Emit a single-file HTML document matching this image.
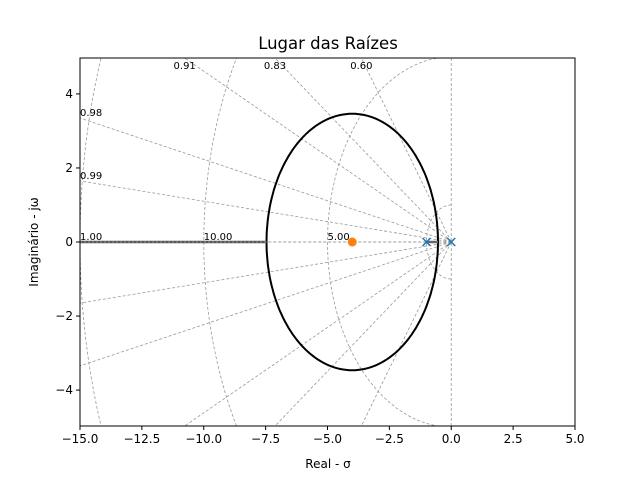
<!DOCTYPE html>
<html><head><meta charset="utf-8"><style>
html,body{margin:0;background:#fff;width:640px;height:480px;overflow:hidden;}
svg{display:block;font-family:"DejaVu Sans","Liberation Sans",sans-serif;}
</style></head><body>
<svg id="chart" width="640" height="480">
<rect width="640" height="480" fill="#fff"/>
<text x="328" y="49" font-size="16.5" text-anchor="middle">Lugar das Raízes</text>
<text x="328" y="468" font-size="12" text-anchor="middle">Real - σ</text>
<text x="38" y="242" font-size="12" text-anchor="middle" transform="rotate(-90 38 242)">Imaginário - jω</text>
<g id="grid"></g>
<g id="locus"></g>
<g id="marks"></g>
<g id="axes"></g>
</svg>
<script>
const xTicks=[-15,-12.5,-10,-7.5,-5,-2.5,0,2.5,5];
const yTicks=[-4,-2,0,2,4];
const zetaValues=[0.59,0.82,0.908,0.976,0.994,1.0];
const zetaLabels=["0.60","0.83","0.91","0.98","0.99","1.00"];
const wnValues=[1,5,10,15];
const wnLabels=["","5.00","10.00",""];
const poles=[0,-1];
const zeros=[-4];
const circleCenter=-4;
const circleRadius=3.464;
const realLocusStart=-15;
const realLocusEnd=-7.464;
const realSeg2=[-1,-0.536];

const X0=80,X1=575,Y0=58,Y1=426,xmin=-15,xmax=5,ymin=-4.97,ymax=4.97;
const sx=v=>X0+(v-xmin)/(xmax-xmin)*(X1-X0);
const sy=v=>Y1-(v-ymin)/(ymax-ymin)*(Y1-Y0);
const NS="http://www.w3.org/2000/svg";
function mk(tag,parent,attrs){const e=document.createElementNS(NS,tag);for(const k in attrs)e.setAttribute(k,attrs[k]);parent.appendChild(e);return e;}
const grid=document.getElementById('grid'),locus=document.getElementById('locus'),marks=document.getElementById('marks'),axes=document.getElementById('axes');
const defs=mk('defs',document.getElementById('chart'),{});
const cp=mk('clipPath',defs,{id:'clip'});mk('rect',cp,{x:X0,y:Y0,width:X1-X0,height:Y1-Y0});
grid.setAttribute('clip-path','url(#clip)');locus.setAttribute('clip-path','url(#clip)');
const gs={stroke:'#999',"stroke-width":0.8,"stroke-dasharray":"3,2",fill:'none'};
wnValues.forEach((w,i)=>{let d='';for(let k=0;k<=90;k++){const a=Math.PI/2+k*Math.PI/90;const px=sx(w*Math.cos(a)),py=sy(w*Math.sin(a));d+=(k?'L':'M')+px.toFixed(1)+' '+py.toFixed(1);}
const p=mk('path',grid,Object.assign({d},gs));


if(wnLabels[i]){const t=mk('text',grid,{x:sx(-w),y:sy(0)-2,"font-size":10,"text-anchor":"start"});t.textContent=wnLabels[i];

}});
zetaValues.forEach((z,i)=>{const s=Math.tan(Math.acos(z));
[1,-1].forEach(sg=>{const R=40;const l=mk('line',grid,Object.assign({x1:sx(0),y1:sy(0),x2:sx(-R),y2:sy(sg*s*R)},gs));

});
let lx,ly;if(s*15>ymax){lx=sx(-ymax/s);ly=Y0+11;}else{lx=X0;ly=sy(s*15)-2;}
const t=mk('text',grid,{x:lx,y:ly,"font-size":10,"text-anchor":s*15>ymax?'middle':'start'});t.textContent=zetaLabels[i];

});
const va=mk('line',grid,Object.assign({x1:sx(0),y1:Y0,x2:sx(0),y2:Y1},gs));


let d='';for(let k=0;k<=180;k++){const a=k*2*Math.PI/180;d+=(k?'L':'M')+sx(circleCenter+circleRadius*Math.cos(a)).toFixed(1)+' '+sy(circleRadius*Math.sin(a)).toFixed(1);}
const c=mk('path',locus,{d,stroke:'#000',"stroke-width":2,fill:'none'});


const r1=mk('line',locus,{x1:sx(realLocusStart),y1:sy(0),x2:sx(realLocusEnd),y2:sy(0),stroke:'#555',"stroke-width":2.5});


const r2=mk('line',locus,{x1:sx(realSeg2[0]),y1:sy(0),x2:sx(realSeg2[1]),y2:sy(0),stroke:'#666',"stroke-width":2.5});


const ov=mk('line',locus,{x1:sx(realLocusStart),y1:sy(0),x2:sx(realLocusEnd),y2:sy(0),stroke:'#aaa',"stroke-width":0.8,"stroke-dasharray":"2,2"});


poles.forEach(p=>{const x=sx(p),y=sy(0),r=4;const g=mk('path',marks,{d:`M${x-r} ${y-r}L${x+r} ${y+r}M${x-r} ${y+r}L${x+r} ${y-r}`,stroke:'#1f77b4',"stroke-width":1.5});

});
zeros.forEach(z=>{const e=mk('circle',marks,{cx:sx(z),cy:sy(0),r:4.5,fill:'#ff7f0e'});

});
const fr=mk('rect',axes,{x:X0,y:Y0,width:X1-X0,height:Y1-Y0,fill:'none',stroke:'#000',"stroke-width":1});


const fmt=v=>(v<0?'−':'')+Math.abs(v).toFixed(1);
xTicks.forEach(v=>{mk('line',axes,{x1:sx(v),y1:Y1,x2:sx(v),y2:Y1+4,stroke:'#000'});const t=mk('text',axes,{x:sx(v),y:Y1+17,"font-size":12,"text-anchor":"middle"});t.textContent=fmt(v);

});
yTicks.forEach(v=>{mk('line',axes,{x1:X0-4,y1:sy(v),x2:X0,y2:sy(v),stroke:'#000'});const t=mk('text',axes,{x:X0-7,y:sy(v)+4,"font-size":12,"text-anchor":"end"});t.textContent=(v<0?'−':'')+Math.abs(v);

});
</script>
</body></html>
